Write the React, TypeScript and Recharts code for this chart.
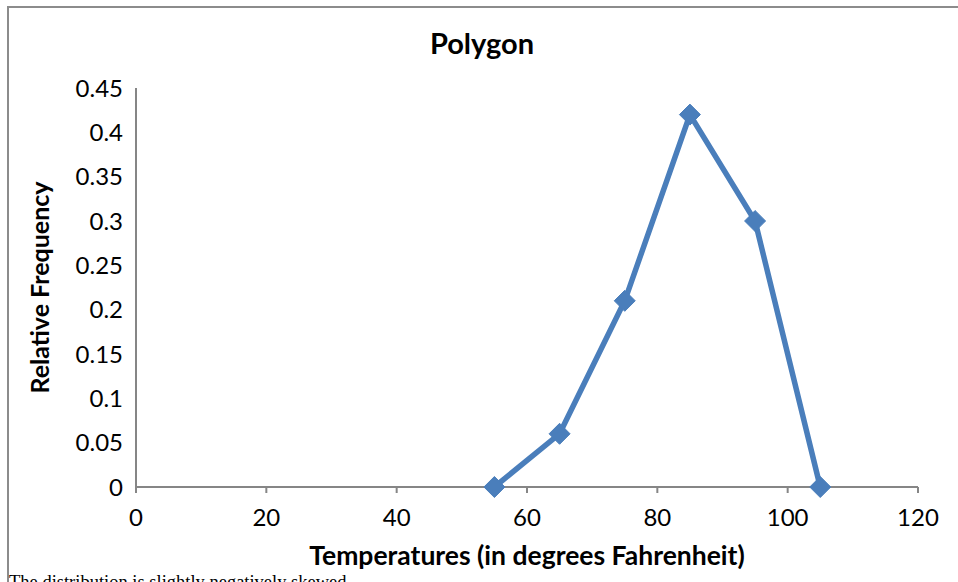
import React from 'react';
import { LineChart, Line, XAxis, YAxis, Label } from 'recharts';

const temperatures = [55, 65, 75, 85, 95, 105];
const relativeFrequency = [0, 0.06, 0.21, 0.42, 0.3, 0];
const xTicks = [0, 20, 40, 60, 80, 100, 120];
const yTicks = [0, 0.05, 0.1, 0.15, 0.2, 0.25, 0.3, 0.35, 0.4, 0.45];

const data = temperatures.map((t, i) => ({ temp: t, freq: relativeFrequency[i] }));

const FONT = 'Lato, "Liberation Sans", sans-serif';
const AXIS_GRAY = '#868686';
const LINE_BLUE = '#4a7ebb';

const Diamond = (props: any) => {
    const { cx, cy } = props;
    if (cx == null || cy == null) return null;
    const r = 10.5;
    return (
        <path
            d={`M${cx},${cy - r} L${cx + r},${cy} L${cx},${cy + r} L${cx - r},${cy} Z`}
            fill={LINE_BLUE}
            stroke={LINE_BLUE}
        />
    );
};

const App: React.FC = () => {
    return (
        <div style={{ position: 'absolute', left: 0, top: 0, width: 958, height: 582, overflow: 'hidden', background: '#fff' }}>
            {/* chart frame */}
            <div
                style={{
                    position: 'absolute',
                    left: 7,
                    top: 6,
                    width: 960,
                    height: 580,
                    borderTop: `2px solid #8c8c8c`,
                    borderLeft: `2px solid #8c8c8c`,
                }}
            />
            <div
                style={{
                    position: 'absolute',
                    left: 0,
                    top: 25,
                    width: 964,
                    textAlign: 'center',
                    fontFamily: FONT,
                    fontWeight: 700,
                    fontSize: 29,
                    color: '#000',
                }}
            >
                Polygon
            </div>
            <div style={{ position: 'absolute', left: 0, top: 0 }}>
                <LineChart
                    width={958}
                    height={582}
                    data={data}
                    margin={{ top: 88, right: 40, bottom: 0, left: 0 }}
                >
                    <XAxis
                        dataKey="temp"
                        type="number"
                        domain={[0, 120]}
                        ticks={xTicks}
                        interval={0}
                        stroke={AXIS_GRAY}
                        strokeWidth={2}
                        tickSize={6}
                        tickMargin={16}
                        tick={{ fill: '#000', fontSize: 24, fontFamily: FONT }}
                        height={95}
                    >
                        <Label
                            value="Temperatures (in degrees Fahrenheit)"
                            position="insideBottom"
                            offset={17}
                            style={{ fill: '#000', fontSize: 26.5, fontWeight: 700, fontFamily: FONT }}
                        />
                    </XAxis>
                    <YAxis
                        type="number"
                        domain={[0, 0.45]}
                        ticks={yTicks}
                        interval={0}
                        width={136}
                        stroke={AXIS_GRAY}
                        strokeWidth={2}
                        tickLine={false}
                        tickSize={0}
                        tickMargin={13}
                        tick={{ fill: '#000', fontSize: 24, fontFamily: FONT }}
                    >
                        <Label
                            value="Relative Frequency"
                            angle={-90}
                            position="insideLeft"
                            offset={40}
                            style={{ textAnchor: 'middle', fill: '#000', fontSize: 25, fontWeight: 700, fontFamily: FONT }}
                        />
                    </YAxis>
                    <Line
                        type="linear"
                        dataKey="freq"
                        stroke={LINE_BLUE}
                        strokeWidth={5.5}
                        dot={<Diamond />}
                        activeDot={false}
                        isAnimationActive={false}
                    />
                </LineChart>
            </div>
            <div
                style={{
                    position: 'absolute',
                    left: 9,
                    top: 572,
                    fontFamily: '"Liberation Serif", "DejaVu Serif", serif',
                    fontSize: 18.5,
                    color: '#000',
                    whiteSpace: 'nowrap',
                }}
            >
                The distribution is slightly negatively skewed
            </div>
        </div>
    );
};

export default App;
